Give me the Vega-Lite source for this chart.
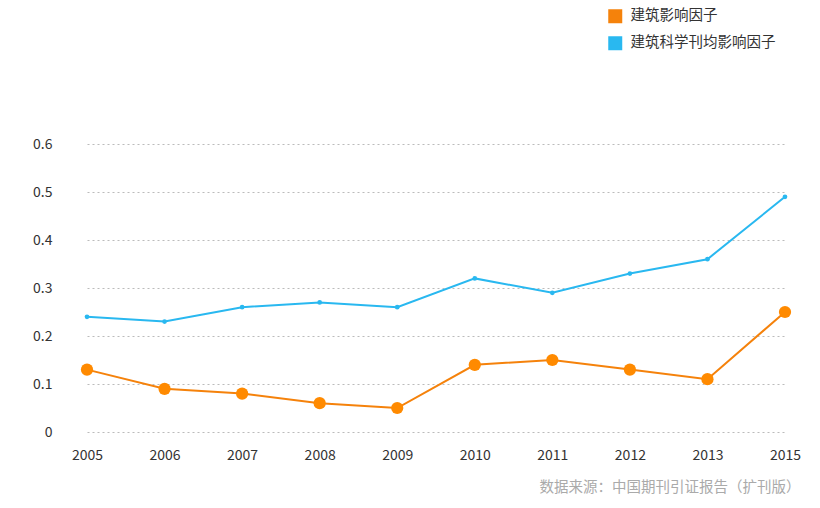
{
  "$schema": "https://vega.github.io/schema/vega-lite/v6.json",
  "width": 698,
  "height": 288,
  "autosize": {"type": "none"},
  "padding": {"left": 87, "top": 144, "right": 35, "bottom": 76},
  "background": "white",
  "config": {
    "view": {"stroke": null},
    "font": "Noto Sans CJK SC",
    "axis": {"labelFont": "Noto Sans CJK SC", "labelFontSize": 14, "labelColor": "#333", "domain": false, "ticks": false},
    "legend": {"labelFont": "Noto Sans CJK SC"}
  },
  "title": {
    "text": "数据来源：中国期刊引证报告（扩刊版）",
    "orient": "bottom",
    "anchor": "end",
    "fontSize": 14.5,
    "fontWeight": "normal",
    "color": "#aaa",
    "offset": 19,
    "dx": 0,
    "font": "Noto Sans CJK SC"
  },
  "data": {
    "values": [
      {"year": "2005", "series": "建筑影响因子", "value": 0.13},
      {"year": "2006", "series": "建筑影响因子", "value": 0.09},
      {"year": "2007", "series": "建筑影响因子", "value": 0.08},
      {"year": "2008", "series": "建筑影响因子", "value": 0.06},
      {"year": "2009", "series": "建筑影响因子", "value": 0.05},
      {"year": "2010", "series": "建筑影响因子", "value": 0.14},
      {"year": "2011", "series": "建筑影响因子", "value": 0.15},
      {"year": "2012", "series": "建筑影响因子", "value": 0.13},
      {"year": "2013", "series": "建筑影响因子", "value": 0.11},
      {"year": "2015", "series": "建筑影响因子", "value": 0.25},
      {"year": "2005", "series": "建筑科学刊均影响因子", "value": 0.24},
      {"year": "2006", "series": "建筑科学刊均影响因子", "value": 0.23},
      {"year": "2007", "series": "建筑科学刊均影响因子", "value": 0.26},
      {"year": "2008", "series": "建筑科学刊均影响因子", "value": 0.27},
      {"year": "2009", "series": "建筑科学刊均影响因子", "value": 0.26},
      {"year": "2010", "series": "建筑科学刊均影响因子", "value": 0.32},
      {"year": "2011", "series": "建筑科学刊均影响因子", "value": 0.29},
      {"year": "2012", "series": "建筑科学刊均影响因子", "value": 0.33},
      {"year": "2013", "series": "建筑科学刊均影响因子", "value": 0.36},
      {"year": "2015", "series": "建筑科学刊均影响因子", "value": 0.49}
    ]
  },
  "encoding": {
    "x": {
      "field": "year", "type": "ordinal",
      "scale": {"type": "point", "padding": 0},
      "axis": {"title": null, "labelAngle": 0, "labelPadding": 16, "grid": false}
    },
    "y": {
      "field": "value", "type": "quantitative",
      "scale": {"domain": [0, 0.6], "nice": false},
      "axis": {"title": null, "values": [0, 0.1, 0.2, 0.3, 0.4, 0.5, 0.6], "format": "~g", "labelPadding": 35, "grid": true, "gridColor": "#bbb", "gridDash": [2, 3], "gridWidth": 1}
    },
    "color": {
      "field": "series", "type": "nominal",
      "scale": {"domain": ["建筑影响因子", "建筑科学刊均影响因子"], "range": ["#f5820b", "#29b8f0"]},
      "legend": {
        "title": null, "orient": "none", "legendX": 521, "legendY": -135,
        "symbolType": "square", "symbolSize": 196, "symbolStrokeWidth": 0,
        "labelFontSize": 14.5, "labelColor": "#333",
        "rowPadding": 11, "labelOffset": 8, "symbolOpacity": 1,
        "encode": {"symbols": {"update": {"fill": {"scale": "color", "field": "value"}, "fillOpacity": {"value": 1}}}}
      }
    }
  },
  "layer": [
    {"mark": {"type": "line", "strokeWidth": 2}},
    {
      "transform": [{"filter": "datum.series === '建筑影响因子'"}],
      "mark": {"type": "point", "filled": true, "opacity": 1, "size": 150},
      "encoding": {"color": {"value": "#ff8a00"}}
    },
    {
      "transform": [{"filter": "datum.series === '建筑科学刊均影响因子'"}],
      "mark": {"type": "point", "filled": true, "opacity": 1, "size": 22},
      "encoding": {"color": {"value": "#29b8f0"}}
    }
  ]
}
